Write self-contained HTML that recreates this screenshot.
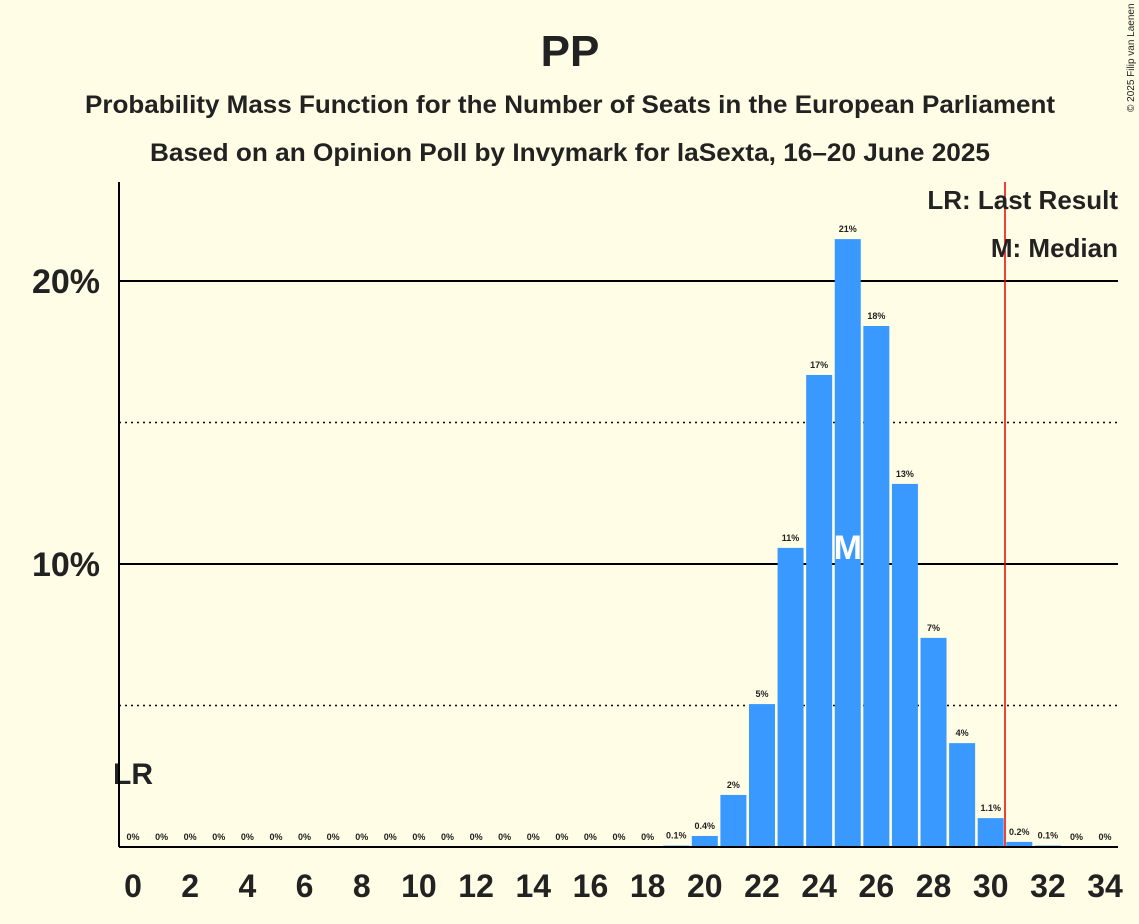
<!DOCTYPE html>
<html><head><meta charset="utf-8"><style>
body{margin:0;background:#FFFDE5;}
svg{display:block;font-family:"Liberation Sans",sans-serif;}
</style></head><body>
<svg id="chart" width="1139" height="924" viewBox="0 0 1139 924">
<rect width="1139" height="924" fill="#FFFDE5"/>
<text x="570" y="66" text-anchor="middle" font-size="44" font-weight="bold" fill="#222">PP</text>
<text x="570" y="113" text-anchor="middle" font-size="25" font-weight="bold" fill="#222" textLength="970" lengthAdjust="spacingAndGlyphs">Probability Mass Function for the Number of Seats in the European Parliament</text>
<text x="570" y="161" text-anchor="middle" font-size="25" font-weight="bold" fill="#222" textLength="840" lengthAdjust="spacingAndGlyphs">Based on an Opinion Poll by Invymark for laSexta, 16–20 June 2025</text>
<text x="1134" y="112" font-size="10" fill="#222" transform="rotate(-90 1134 112)">© 2025 Filip van Laenen</text>
<g id="grid"></g>
<g id="bars"></g>
<g id="xticks"></g>
<line x1="119" y1="182" x2="119" y2="847" stroke="#000" stroke-width="2"/>
<line x1="119" y1="847" x2="1118" y2="847" stroke="#000" stroke-width="2"/>
<text x="1118" y="209" text-anchor="end" font-size="26" font-weight="bold" fill="#222">LR: Last Result</text>
<text x="1118" y="257" text-anchor="end" font-size="26" font-weight="bold" fill="#222">M: Median</text>
</svg>
<script>
const seats=[0,1,2,3,4,5,6,7,8,9,10,11,12,13,14,15,16,17,18,19,20,21,22,23,24,25,26,27,28,29,30,31,32,33,34];
const probs=[0,0,0,0,0,0,0,0,0,0,0,0,0,0,0,0,0,0,0,0.05,0.39,1.84,5.05,10.57,16.68,21.48,18.41,12.83,7.39,3.67,1.02,0.18,0.05,0,0];
const labels=["0%","0%","0%","0%","0%","0%","0%","0%","0%","0%","0%","0%","0%","0%","0%","0%","0%","0%","0%","0.1%","0.4%","2%","5%","11%","17%","21%","18%","13%","7%","4%","1.1%","0.2%","0.1%","0%","0%"];
const yTicks=[10,20];
const yDotted=[5,15];
const xTickLabels=[0,2,4,6,8,10,12,14,16,18,20,22,24,26,28,30,32,34];
const median=25, lastResult=30.5, lrLabelSeat=0;
const NS="http://www.w3.org/2000/svg";
const x=s=>133+s*28.59, y=p=>847-p*28.3;
function mk(t,a,parent){const e=document.createElementNS(NS,t);for(const k in a)e.setAttribute(k,a[k]);document.getElementById(parent).appendChild(e);return e;}
yDotted.forEach(v=>{const l=mk('line',{x1:119,x2:1118,y1:y(v),y2:y(v),stroke:'#000','stroke-width':1.5,'stroke-dasharray':'2,4'},'grid');

});
yTicks.forEach(v=>{const l=mk('line',{x1:119,x2:1118,y1:y(v),y2:y(v),stroke:'#000','stroke-width':2},'grid');


const t=mk('text',{x:100,y:y(v)+12,'text-anchor':'end','font-size':34,'font-weight':'bold',fill:'#222'},'grid');t.textContent=v+'%';

});
seats.forEach((s,i)=>{const p=probs[i];
if(p>0){const bg=mk('rect',{x:x(s)-15,y:y(p)-22,width:30,height:22,fill:'#FFFDE5'},'bars');


const r=mk('rect',{x:x(s)-13,y:y(p),width:26,height:847-y(p),fill:'#3A99FF'},'bars');

}
const t=mk('text',{x:x(s),y:y(p)-7,'text-anchor':'middle','font-size':9,'font-weight':'bold',fill:'#222'},'bars');t.textContent=labels[i];

});
const m=mk('text',{x:x(median),y:y(10)-5,'text-anchor':'middle','font-size':34,'font-weight':'bold',fill:'#fff'},'bars');m.textContent='M';


const lr=mk('line',{x1:x(lastResult),x2:x(lastResult),y1:182,y2:847,stroke:'#e00','stroke-width':1.5},'bars');


const lt=mk('text',{x:x(lrLabelSeat),y:784,'text-anchor':'middle','font-size':30,'font-weight':'bold',fill:'#222'},'bars');lt.textContent='LR';


xTickLabels.forEach(s=>{const t=mk('text',{x:x(s),y:897,'text-anchor':'middle','font-size':32,'font-weight':'bold',fill:'#222'},'xticks');t.textContent=s;

});
</script>
</body></html>
